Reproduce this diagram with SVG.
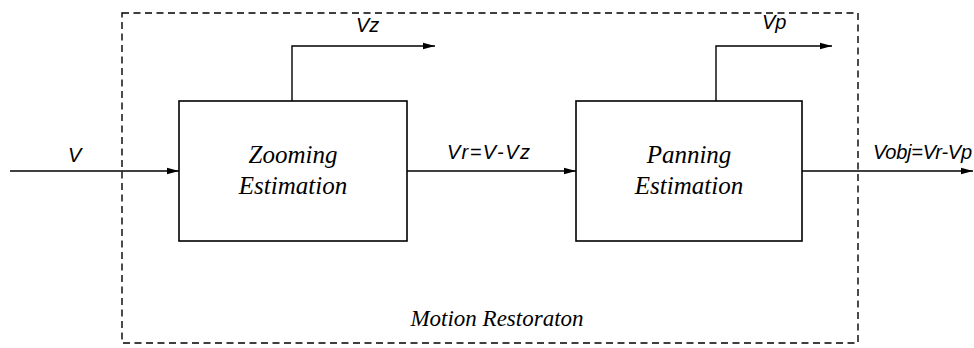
<svg xmlns="http://www.w3.org/2000/svg" width="974" height="348" viewBox="0 0 974 348">
<style>
.box{fill:none;stroke:#000;stroke-width:1.6}
.ln{fill:none;stroke:#000;stroke-width:1.4}
.dash{fill:none;stroke:#000;stroke-width:1.4;stroke-dasharray:7 4.5}
.bt{font-family:"Liberation Serif","Times New Roman",serif;font-style:italic;font-size:25px;text-anchor:middle;fill:#000}
.lb{font-family:"Liberation Sans",Arial,sans-serif;font-style:italic;font-size:20px;fill:#000}
</style>
<defs>
<marker id="ah" markerWidth="12" markerHeight="8" refX="12" refY="4" orient="auto" markerUnits="userSpaceOnUse">
<path d="M0,0.8 L12,4 L0,7.2 Z" fill="#000"/>
</marker>
</defs>
<g id="motion-restoration">
<rect class="dash" x="122" y="13" width="736" height="330"/>
<text class="bt" x="497" y="326" style="font-size:23px">Motion Restoraton</text>
</g>
<g id="zooming">
<rect class="box" x="179" y="101" width="228" height="140"/>
<text class="bt" x="293" y="163">Zooming</text>
<text class="bt" x="293" y="194">Estimation</text>
</g>
<g id="panning">
<rect class="box" x="576" y="101" width="226" height="140"/>
<text class="bt" x="689" y="163">Panning</text>
<text class="bt" x="689" y="194">Estimation</text>
</g>
<g id="connectors">
<line class="ln" x1="10" y1="171" x2="179" y2="171" marker-end="url(#ah)"/>
<polyline class="ln" points="292,101 292,46 435,46" marker-end="url(#ah)"/>
<line class="ln" x1="407" y1="171" x2="576" y2="171" marker-end="url(#ah)"/>
<polyline class="ln" points="716,101 716,46 832,46" marker-end="url(#ah)"/>
<line class="ln" x1="802" y1="171" x2="973" y2="171" marker-end="url(#ah)"/>
<text class="lb" x="68" y="162">V</text>
<text class="lb" x="356" y="32">Vz</text>
<text class="lb" x="447" y="159" textLength="83">Vr=V-Vz</text>
<text class="lb" x="762" y="29">Vp</text>
<text class="lb" x="873" y="159" textLength="99">Vobj=Vr-Vp</text>
</g>
</svg>
